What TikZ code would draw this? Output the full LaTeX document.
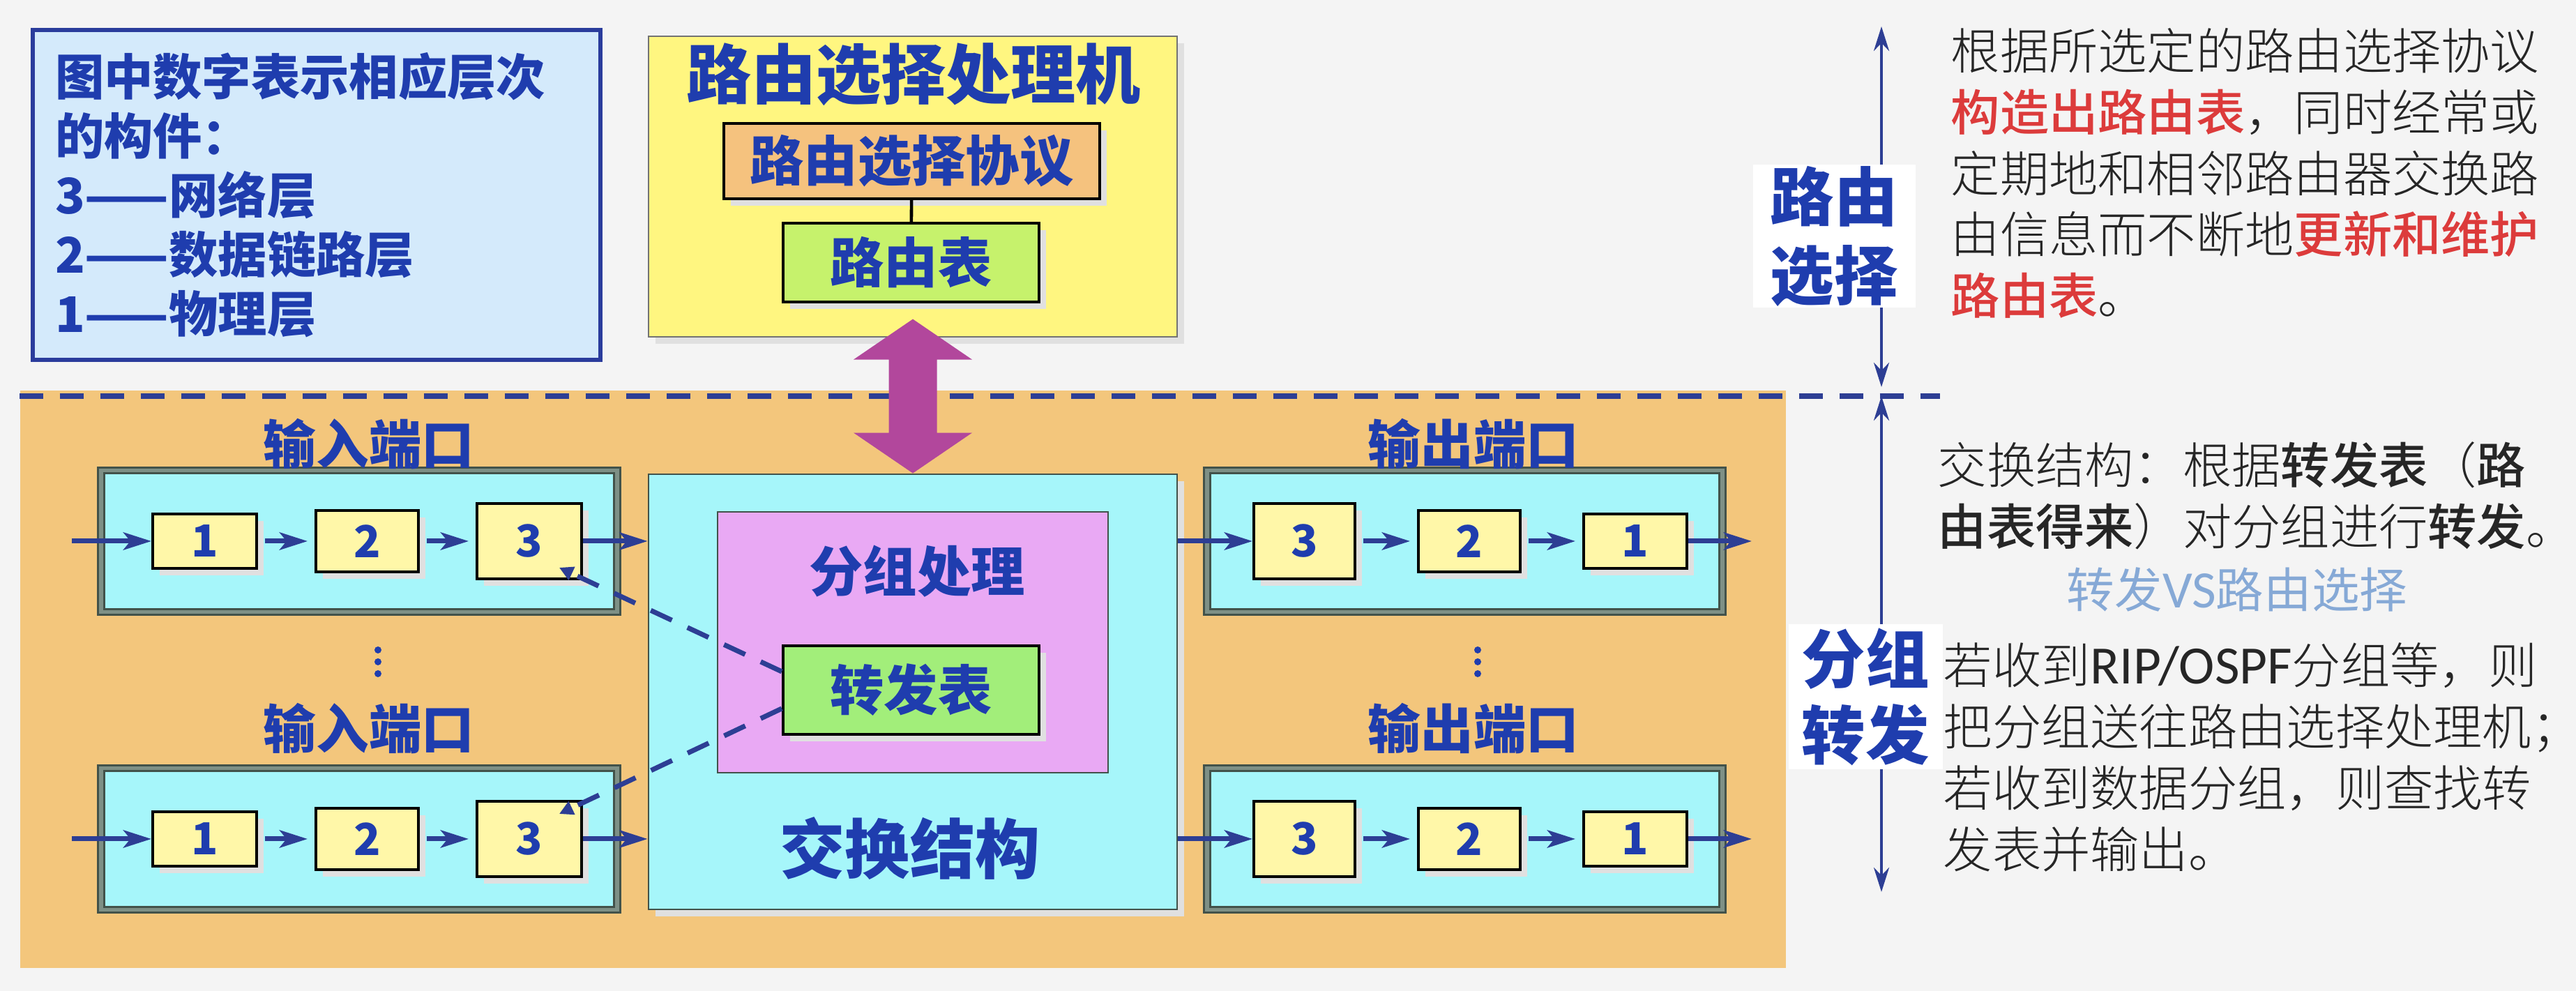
\documentclass[tikz,border=0pt]{standalone}
\usepackage{fontspec}
\setmainfont{Noto Sans CJK SC}
\newfontfamily\calib{Carlito}[Scale=1.1]
\IfFontExistsTF{Noto Sans CJK SC Light}
  {\newfontfamily\cjklight{Noto Sans CJK SC Light}}
  {\newfontfamily\cjklight{Noto Sans CJK SC}}
\IfFontExistsTF{Noto Sans CJK SC Medium}
  {\newfontfamily\cjkmed{Noto Sans CJK SC Medium}}
  {\newcommand{\cjkmed}{\bfseries}}
\newcommand{\redpart}[1]{{\cjkmed\color{alert}#1}}
\newcommand{\keyw}[1]{{\cjkmed #1}}
\usetikzlibrary{arrows.meta,shadows}
\definecolor{ink}{HTML}{1F3DAE}
\definecolor{flowblue}{HTML}{2D3E94}
\definecolor{paper}{HTML}{F4F4F4}
\definecolor{sand}{HTML}{F3C67C}
\definecolor{keyfill}{HTML}{D4EAFB}
\definecolor{keyline}{HTML}{2A3C9C}
\definecolor{lemon}{HTML}{FFF680}
\definecolor{apricot}{HTML}{F5C27E}
\definecolor{lime}{HTML}{C6F26C}
\definecolor{aqua}{HTML}{A6F6FA}
\definecolor{orchid}{HTML}{E9A9F4}
\definecolor{leaf}{HTML}{A2EE7A}
\definecolor{cream}{HTML}{FFF7A8}
\definecolor{plum}{HTML}{B2479C}
\definecolor{alert}{HTML}{DC3B3B}
\definecolor{haze}{HTML}{86A9D6}
\definecolor{rim}{HTML}{42524A}
\definecolor{rimgap}{HTML}{7E9086}

\begin{document}
\begin{tikzpicture}[x=1cm,y=1cm,
  shad/.style={drop shadow={shadow xshift=1mm,shadow yshift=-1mm,fill=black!12,opacity=1}},
  box/.style={draw=black,line width=1.1pt,inner sep=0pt,text=ink,font=\bfseries\fontsize{22}{26}\selectfont,shad},
  numbox/.style={box,fill=cream,font=\bfseries\fontsize{18}{22}\selectfont},
  portbox/.style={draw=rim,double=rimgap,double distance=1.6pt,line width=.9pt,fill=aqua},
  lbl/.style={text=ink,inner sep=0pt,font=\bfseries\fontsize{21.5}{26}\selectfont},
  flow/.style={-{Stealth[length=4mm,width=2.5mm,inset=1mm]},line width=2pt,draw=flowblue},
  link/.style={-{Triangle[length=2mm,width=2mm]},line width=2pt,draw=flowblue,dash pattern=on 9.5pt off 7pt},
  span/.style={{Stealth[length=3.5mm,width=2.2mm]}-{Stealth[length=3.5mm,width=2.2mm]},line width=1.3pt,draw=flowblue},
  sidelbl/.style={fill=white,text=ink,align=center,inner sep=0pt,font=\bfseries\fontsize{26}{32}\selectfont},
  para/.style={anchor=west,align=left,inner sep=0pt,text=black!85,font=\cjklight\fontsize{20}{25}\selectfont}]
\useasboundingbox (0,0) rectangle (36.94,14.21);
\fill[paper] (0,0) rectangle (36.94,14.21);
% router body, split into routing (top) and forwarding (bottom)
\fill[sand] (.29,.33) rectangle (25.61,8.61);
\draw[flowblue,line width=2.3pt,dash pattern=on 9.7pt off 6.8pt] (.28,8.53) -- (27.82,8.53);

% legend
\node[draw=keyline,line width=1.6pt,fill=keyfill,minimum width=8.14cm,minimum height=4.73cm,
  text width=7.5cm,align=left,inner sep=0pt,text=ink,font=\bfseries\fontsize{20}{24.2}\selectfont] (key) at (4.54,11.415)
  {图中数字表示相应层次\\的构件：\\3——网络层\\2——数据链路层\\1——物理层};

% routing processor
\node[draw=black!55,line width=.8pt,fill=lemon,minimum width=7.58cm,minimum height=4.31cm,shad] (rp) at (13.09,11.535) {};
\node[lbl,font=\bfseries\fontsize{26.5}{30}\selectfont] (rptitle) at (13.10,13.14) {路由选择处理机};
\node[box,fill=apricot,minimum width=5.39cm,minimum height=1.08cm] (proto) at (13.075,11.90) {路由选择协议};
\node[box,fill=lime,minimum width=3.67cm,minimum height=1.13cm] (rtab) at (13.065,10.445) {路由表};
\draw[line width=1.3pt] (proto) -- (rtab);

% switch fabric
\node[draw=rim,line width=.8pt,fill=aqua,minimum width=7.58cm,minimum height=6.24cm,shad] (sw) at (13.09,4.29) {};
\node[lbl,font=\bfseries\fontsize{26.5}{30}\selectfont] (swlab) at (13.05,2.04) {交换结构};
\node[draw=rim,line width=.8pt,fill=orchid,minimum width=5.60cm,minimum height=3.74cm] (pk) at (13.09,5.00) {};
\node[lbl,font=\bfseries\fontsize{22}{26}\selectfont] (pklab) at (13.15,6.02) {分组处理};
\node[box,fill=leaf,minimum width=3.67cm,minimum height=1.27cm] (fwd) at (13.065,4.315) {转发表};

% fat two-way arrow between fabric and processor
\fill[plum] (sw.north) -- ++(-.85,.58) -- ++(.505,0) -- ++(0,1.05) -- ++(-.505,0) -- ++(.85,.58)
  -- ++(.85,-.58) -- ++(-.505,0) -- ++(0,-1.05) -- ++(.505,0) -- cycle;

% input and output ports
\foreach \r/\y/\ly in {A/6.45/7.84,B/2.18/3.76}{
  \node[portbox,minimum width=7.40cm,minimum height=2.03cm] (in\r) at (5.15,\y) {};
  \node[lbl] (in\r lab) at (5.29,\ly) {输入端口};
  \node[numbox,minimum width=1.49cm,minimum height=.78cm] (in\r1) at (2.935,\y) {1};
  \node[numbox,minimum width=1.47cm,minimum height=.88cm] (in\r2) at (5.265,\y) {2};
  \node[numbox,minimum width=1.50cm,minimum height=1.08cm] (in\r3) at (7.59,\y) {3};
  \coordinate (in\r0) at (1.03,\y);
  \draw[flow] (in\r0) -- (in\r1);
  \draw[flow,shorten <=1mm,shorten >=1mm] (in\r1) -- (in\r2);
  \draw[flow,shorten <=1mm,shorten >=1mm] (in\r2) -- (in\r3);
  \draw[flow] (in\r3) -- (in\r3 -| sw.west);
  \node[portbox,minimum width=7.39cm,minimum height=2.03cm] (out\r) at (21.005,\y) {};
  \node[lbl] (out\r lab) at (21.13,\ly) {输出端口};
  \node[numbox,minimum width=1.45cm,minimum height=1.08cm] (out\r3) at (18.705,\y) {3};
  \node[numbox,minimum width=1.46cm,minimum height=.88cm] (out\r2) at (21.07,\y) {2};
  \node[numbox,minimum width=1.48cm,minimum height=.78cm] (out\r1) at (23.45,\y) {1};
  \coordinate (out\r0) at (25.12,\y);
  \draw[flow] (out\r3 -| sw.east) -- (out\r3);
  \draw[flow,shorten <=1mm,shorten >=1mm] (out\r3) -- (out\r2);
  \draw[flow,shorten <=1mm,shorten >=1mm] (out\r2) -- (out\r1);
  \draw[flow] (out\r1) -- (out\r0);
}
\foreach \x in {5.42,21.19}{
  \foreach \d in {-.17,0,.17}
    \fill[ink] (\x,4.72+\d) circle (.05);
}
\draw[link] ([yshift=.265cm]fwd.west) -- ([xshift=-.34cm,yshift=.18cm]inA3.south east);
\draw[link] ([yshift=-.265cm]fwd.west) -- ([xshift=-.34cm,yshift=-.2cm]inB3.north east);

% right-hand notes
\coordinate (rsTop) at (26.98,13.83);
\coordinate (rsBot) at (26.98,8.66);
\coordinate (pfTop) at (26.98,8.53);
\coordinate (pfBot) at (26.98,1.42);
\draw[span] (rsTop) -- (rsBot);
\draw[span] (pfTop) -- (pfBot);
\node[sidelbl,minimum width=2.33cm,minimum height=2.05cm] (rslab) at (26.3,10.82) {路由\\选择};
\node[sidelbl,minimum width=2.21cm,minimum height=2.08cm,font=\bfseries\fontsize{26}{31}\selectfont] (pflab) at (26.75,4.22) {分组\\转发};
\node[para] (rsnote) at (27.97,11.725) {根据所选定的路由选择协议\\\redpart{构造出路由表}，同时经常或\\定期地和相邻路由器交换路\\由信息而不断地\redpart{更新和维护}\\\redpart{路由表}。};
\node[para] (swnote) at (27.78,7.105) {交换结构：根据\keyw{转发表}（\keyw{路}\\\keyw{由表得来}）对分组进行\keyw{转发}。};
\node[text=haze,inner sep=0pt,font=\fontsize{19.5}{24}\selectfont] (vs) at (32.08,5.76) {转发{\calib VS}路由选择};
\node[para] (pfnote) at (27.86,3.35) {若收到{\calib RIP/OSPF}分组等，则\\把分组送往路由选择处理机；\\若收到数据分组，则查找转\\发表并输出。};
\end{tikzpicture}
\end{document}
